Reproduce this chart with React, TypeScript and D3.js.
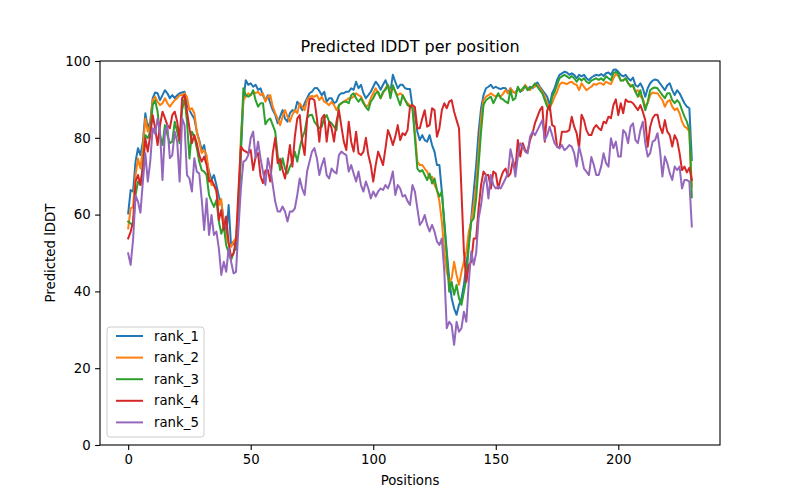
import { useEffect, useRef } from 'react'
import * as d3 from 'd3'

const SERIES_NAMES = ['rank_1', 'rank_2', 'rank_3', 'rank_4', 'rank_5']
const COLORS = ['#1f77b4', '#ff7f0e', '#2ca02c', '#d62728', '#9467bd']
const X_TICKS = [0, 50, 100, 150, 200]
const Y_TICKS = [0, 20, 40, 60, 80, 100]

const RANK_1 = [
  60.3, 66.4, 66, 73.8, 77.3, 75.5, 79, 86.4, 82.5, 84.2,
  90.3, 91.8, 91.6, 89.8, 91.1, 92.4, 91.6, 90.3, 91.1, 90.3,
  91.1, 91.6, 91.8, 92, 88.5, 87.2, 86, 85, 81.6, 79.4,
  76.8, 78.1, 74.2, 71.2, 69, 70.3, 67.7, 64.7, 63, 58.6,
  54.3, 62.5, 51.7, 53, 50.8, 59.5, 76, 89.8, 95, 93.8,
  94.2, 93.3, 93.8, 92.5, 92.9, 91, 89.8, 91.1, 89, 87.2,
  86, 83.8, 85.5, 87.2, 85, 84.2, 86.4, 87.2, 86.8, 89.4,
  88.5, 87.2, 89, 90.3, 91.6, 92, 92.9, 93, 92.2, 91.1,
  92, 89.4, 90.3, 90.3, 89, 89.4, 91.1, 91.6, 91.6, 92,
  92, 92.9, 92.5, 94.6, 92.9, 93.8, 91.6, 90.3, 91.1, 92,
  93.3, 94.6, 93.8, 92.5, 93.8, 95, 93.3, 92, 96.4, 94.6,
  92.9, 93.8, 93.8, 92.9, 92.7, 92.7, 88, 86, 81.6, 79.4,
  80.7, 79.4, 79, 80.7, 78.1, 76.4, 72.9, 72.9, 66, 58.2,
  50.4, 43.4, 38.2, 35.6, 33.9, 36.5, 38.2, 41.7, 46.9, 52.1,
  59, 66, 72.9, 81.6, 87.7, 91.1, 92.9, 93.3, 93.8, 92.9,
  93.3, 92.9, 92.7, 93, 92.9, 91.6, 92.9, 92, 91.6, 92.9,
  92, 92.4, 93.5, 92.6, 93.3, 92.9, 93.7, 94.4, 93.3, 92.4,
  91.6, 90.7, 88.5, 91.6, 92.9, 95, 96.4, 96.8, 97.2, 97,
  96.4, 96.8, 96.4, 95.5, 96.4, 96, 96.4, 95.5, 95, 95.7,
  96.1, 96.4, 96.2, 96.6, 96.1, 96.8, 97, 96.4, 97.7, 97.8,
  97.2, 96.4, 96, 96.4, 95.5, 94.9, 95.7, 93.7, 93.3, 94.2,
  92.9, 90.7, 92.9, 94.2, 94.9, 95.2, 95, 94.2, 93.3, 92.4,
  93.7, 94.2, 92.4, 91.1, 92.4, 91.6, 90.3, 89, 88.1, 87.7,
  74.2,
]

const RANK_2 = [
  56.4, 61.6, 62, 70.3, 74.6, 72, 77.3, 85, 81.6, 83.3,
  89.8, 90.7, 89.4, 88.5, 89, 90.3, 89, 88.1, 89, 89.8,
  90.3, 91.1, 91.1, 91.6, 90.7, 87.2, 87.7, 86.4, 81.6, 79,
  76, 76.8, 75.5, 70.3, 67.7, 67.7, 66, 62.5, 64, 57,
  54.3, 52.5, 51.7, 53, 54, 62.9, 80.3, 89.8, 90.7, 91.6,
  91.1, 92, 91.6, 92, 91.1, 91.6, 89.4, 90.7, 91.1, 88.1,
  86.4, 85, 83.3, 85.5, 87.2, 85.5, 84.2, 86, 87.2, 86.4,
  89, 88.1, 87.2, 89.8, 90.7, 90.9, 90.7, 91.1, 89.8, 90.7,
  89.4, 89, 88.5, 89.4, 88.5, 87.2, 88.5, 89, 89.4, 89.8,
  90.3, 90.3, 90.7, 91.6, 91.1, 90.7, 89.4, 88.1, 88.5, 90.3,
  91.6, 92.9, 91.6, 90.3, 91.6, 92.9, 93.8, 92, 93.3, 92,
  91.1, 91.6, 91.1, 89.8, 89, 88.5, 88.1, 81.6, 73.8, 72.9,
  72.9, 72, 71.2, 69.4, 69.9, 67.7, 66.4, 63.4, 58.2, 50.4,
  45.1, 42.5, 43.4, 47.7, 44.3, 41.7, 45.1, 47.7, 50.4, 55.6,
  58.2, 62.5, 67.7, 76.4, 85.1, 89.8, 90.7, 91.1, 91.6, 91.1,
  90.7, 91.1, 90.7, 91.5, 92.4, 91.6, 92.9, 92, 91.6, 92.9,
  92.4, 92.4, 93.8, 92.9, 92.4, 93.3, 93.3, 93.8, 92.9, 92,
  90.7, 89, 88.1, 89, 90.7, 92, 93.8, 94.4, 94.2, 94,
  94.4, 94.6, 94, 93.8, 92.4, 94.2, 93.3, 92.4, 92.9, 93.3,
  94, 93.8, 94.2, 94.2, 93.8, 94.6, 94.2, 94, 95.5, 96.6,
  96.1, 94.9, 95, 95.5, 94.2, 93.8, 93.3, 92, 92.4, 90.7,
  90.3, 88.1, 89, 91.1, 91.8, 91.6, 91.6, 90.7, 89.8, 88.1,
  89.4, 89.8, 88.1, 87.2, 87.7, 86.4, 84.2, 82.9, 82.5, 81.6,
  67.3,
]

const RANK_3 = [
  58.2, 57.7, 57, 65.1, 68.6, 67.7, 72.9, 80.7, 79.9, 81.6,
  88.5, 89.8, 86.8, 80.7, 78.1, 83.3, 80.7, 78.6, 79, 84.2,
  81.6, 78.6, 87.2, 90.3, 84.2, 74.6, 81.6, 80.3, 77.3, 73.8,
  71.6, 71.2, 70.3, 65.1, 63.4, 62, 63.8, 58.2, 55, 57,
  52, 50, 48.2, 50, 52, 60, 78, 92.9, 91.1, 90.7,
  91.1, 92.4, 89.8, 88.1, 89, 89, 83.5, 84.6, 85, 83.3,
  81.6, 75.5, 71.6, 74.7, 72, 70.7, 72.5, 73.8, 76.4, 73.8,
  77.3, 80, 81.6, 85.1, 85.9, 86, 84.2, 83.3, 82.5, 82.9,
  85.1, 85.9, 84.2, 83.8, 82.9, 82, 88.5, 89, 89.4, 89.4,
  89, 91.1, 91.6, 90.3, 89.4, 90.3, 89, 88, 87.2, 89.4,
  90.3, 91.6, 92, 90.3, 92, 92.5, 93.8, 90.3, 93.7, 92,
  90.3, 88.5, 91.1, 89.8, 88.5, 88.1, 87.7, 79.9, 72, 71.2,
  71.6, 70.3, 69, 70.7, 68.1, 69.4, 66.4, 64.7, 66, 57.3,
  49.5, 39.9, 42.5, 39.1, 41.7, 38.2, 36.5, 39.9, 43.4, 52.1,
  58.2, 59, 64.2, 72.9, 81.6, 88.5, 89.8, 90.3, 90.7, 89,
  90.3, 91.6, 90.3, 90, 89.4, 89, 92.4, 89.8, 90.3, 93.3,
  92, 92.9, 93.5, 92.4, 92.9, 93.3, 94.2, 93.3, 92.4, 91.6,
  89.8, 88.1, 87.2, 90.7, 92, 93.8, 95.5, 96, 96.4, 96,
  95.5, 96.1, 95.5, 94.6, 95.5, 94.9, 95.5, 94.6, 94.2, 94.9,
  95.2, 95.5, 95.1, 95.5, 94.9, 96, 95.5, 95, 96.8, 97.2,
  96.6, 94.9, 94.9, 95.5, 94.2, 93.3, 93.8, 92, 90.7, 92.4,
  89.8, 87.2, 89.4, 92.4, 92.9, 93.1, 92.9, 92, 91.1, 90.3,
  91.6, 91.6, 89.8, 89, 89.8, 89, 87.2, 85.5, 84.2, 82,
  64.5,
]

const RANK_4 = [
  53.8, 55.5, 58.2, 68.6, 70.3, 67.7, 72, 79.9, 76.4, 80.7,
  85.9, 82.5, 78.1, 83.3, 86.8, 85.1, 83.3, 82.5, 85.9, 86.8,
  84.2, 79.4, 90.3, 91.1, 86.8, 82.5, 78.6, 80.7, 78.6, 75.5,
  73.8, 75.1, 72.9, 68.6, 69, 67.7, 66.4, 58.6, 61.2, 56,
  59.5, 52.5, 49, 49.9, 53.4, 66.4, 77.7, 76.8, 76.4, 76,
  76.8, 71.6, 75.1, 76, 70, 68.2, 71.5, 71.6, 68.6, 76,
  80, 73.4, 74.5, 71.6, 69.4, 73.4, 78.1, 72.5, 80.3, 85,
  85.9, 79, 75.5, 85, 90, 90.3, 89.8, 85.1, 79, 85.1,
  86, 79, 84.2, 82.5, 79, 84.2, 87.2, 83, 79, 76.8,
  84.2, 79, 76.4, 81.6, 76, 75.5, 76.4, 80, 75.5, 72.9,
  68.6, 72.9, 76.4, 74.7, 72.9, 77.3, 82, 80.3, 78.1, 80.3,
  83.3, 79.4, 81.2, 80.7, 82, 88.1, 88.5, 88, 82.5, 82.5,
  85, 87.2, 82.9, 83.3, 87.7, 87.2, 80.3, 82.5, 87.2, 89,
  87.7, 89.4, 89.8, 86.8, 84.6, 82.5, 66, 50.4, 42.5, 46.9,
  47.7, 53.8, 53.8, 61.6, 67.7, 71.2, 70.3, 70.3, 66.8, 71.2,
  70.7, 66.8, 69.4, 71.2, 72, 69.9, 70.7, 74.2, 71.6, 79.4,
  75.1, 78.6, 76.8, 76.4, 79.4, 81.2, 83.8, 85.5, 87.2, 88.1,
  79, 87.2, 88.5, 83.3, 82.9, 77.7, 77.3, 81.6, 81.6, 81.6,
  82, 85.5, 82.9, 81.2, 77.3, 86, 84.6, 82, 80.7, 80.7,
  82.5, 83.3, 82.5, 82, 84.2, 83.8, 85.5, 85.1, 88.5, 90,
  85.9, 89, 86.4, 90, 89.4, 89.4, 89, 88.1, 87.2, 88.5,
  86.8, 84.6, 77.7, 82.9, 85.1, 86, 86, 82.9, 81.2, 84.6,
  81.6, 80.7, 77.7, 80.7, 79.4, 76, 71.6, 72.5, 71, 72.2,
  69,
]

const RANK_5 = [
  49.9, 46.9, 53.5, 65, 63.4, 60.5, 68.6, 76, 68.6, 73.8,
  82.5, 81, 85, 81.6, 69, 81.6, 83.3, 74.7, 75.5, 81.6,
  79, 68.6, 85.1, 83.3, 70.3, 69.4, 66, 74.7, 71.2, 70.7,
  64, 56, 64.2, 54.7, 59.9, 54.7, 55.6, 51.2, 44.3, 47.7,
  45.1, 51.2, 47.7, 44.7, 45.1, 56.4, 66.8, 73.8, 74.2, 75.5,
  79.9, 81.6, 74.7, 79, 74.7, 71.2, 67.7, 74.7, 72, 67.7,
  63.4, 60.8, 60.8, 62.1, 60.8, 58.2, 60.8, 60.8, 61.6, 65.1,
  69.4, 66.8, 65.1, 71.2, 73.8, 76.4, 77.3, 74.7, 70.3, 72.9,
  74.7, 70.3, 69.4, 72, 71.2, 70.7, 75.5, 76.4, 75.9, 75.5,
  71.2, 72.9, 70.7, 68.6, 71.2, 67.7, 66, 68.6, 66.8, 64.2,
  66, 64.7, 66, 66.8, 66.4, 67.7, 66.8, 68.6, 71.2, 65.1,
  67.7, 66.8, 64.7, 65.1, 63.5, 62.5, 67.7, 66, 61.6, 57.3,
  58.2, 59.9, 57.3, 55.6, 57.3, 55.6, 53, 52.1, 53.8, 45.1,
  30.4, 32.1, 31.2, 26.1, 32.1, 29.5, 30.4, 34.7, 32.1, 42.5,
  50.4, 46.9, 50, 59, 62.5, 67.7, 70.3, 64.2, 70.3, 67.7,
  66.8, 67.3, 66.8, 68.1, 69.4, 70.8, 77, 74.2, 69.9, 75.1,
  78.6, 77.7, 76.4, 76, 80.3, 81.6, 80.7, 82, 83.3, 84.6,
  79.4, 80.7, 82.9, 80.7, 78.6, 77.7, 77.3, 78.1, 76.8, 77.3,
  78.1, 77.7, 76, 72.5, 77.7, 75.1, 72, 71.2, 70.3, 75,
  73, 70.3, 70.3, 72.5, 76, 73.4, 72.5, 79.9, 77.3, 79,
  75.1, 75.1, 82, 81.2, 78.6, 82.9, 83.8, 79.4, 78.6, 82,
  84.2, 78.6, 75.1, 76, 79, 79.4, 81.2, 76.8, 69.9, 75.1,
  73.4, 70.8, 69, 72.5, 71.6, 72.5, 66.8, 69, 69, 68.6,
  56.9,
]

const SERIES = [RANK_1, RANK_2, RANK_3, RANK_4, RANK_5]

const FONT = '"DejaVu Sans", sans-serif'

export default function App(): JSX.Element {
  const ref = useRef<SVGSVGElement>(null)

  useEffect(() => {
    const node = ref.current
    if (!node) return
    const width = 800, height = 500
    const left = 100, right = 720, top = 61, bottom = 445

    const svg = d3.select(node)
    svg.selectAll('*').remove()

    const maxX = RANK_1.length - 1
    const pad = maxX * 0.05
    const x = d3.scaleLinear().domain([-pad, maxX + pad]).range([left, right])
    const y = d3.scaleLinear().domain([0, 100]).range([bottom, top])

    svg.append('rect').attr('width', width).attr('height', height).attr('fill', '#fff')

    const line = d3.line<number>()
      .x((_, i) => x(i))
      .y(d => y(d))

    const plot = svg.append('g')
    SERIES.forEach((s, k) => {
      plot.append('path')
        .datum(s)
        .attr('d', line)
        .attr('fill', 'none')
        .attr('stroke', COLORS[k])
        .attr('stroke-width', 2)
        .attr('stroke-linejoin', 'round')
        .attr('stroke-linecap', 'square')
    })

    // axes
    const xAxis = svg.append('g')
      .attr('transform', `translate(0,${bottom})`)
      .call(d3.axisBottom(x).tickValues(X_TICKS).tickSize(4.9).tickPadding(4.5).tickFormat(d3.format('d')))
    const yAxis = svg.append('g')
      .attr('transform', `translate(${left},0)`)
      .call(d3.axisLeft(y).tickValues(Y_TICKS).tickSize(4.9).tickPadding(4.5).tickFormat(d3.format('d')))
    for (const a of [xAxis, yAxis]) {
      a.select('.domain').remove()
      a.selectAll('line').attr('stroke', '#000').attr('stroke-width', 1.1)
      a.selectAll('text').attr('font-family', FONT).attr('font-size', '13.3px').attr('fill', '#000')
    }

    svg.append('rect')
      .attr('x', left).attr('y', top)
      .attr('width', right - left).attr('height', bottom - top)
      .attr('fill', 'none').attr('stroke', '#000').attr('stroke-width', 1.1)

    svg.append('text')
      .attr('x', (left + right) / 2).attr('y', 52)
      .attr('text-anchor', 'middle')
      .attr('font-family', FONT).attr('font-size', '16px')
      .text('Predicted lDDT per position')

    svg.append('text')
      .attr('x', (left + right) / 2).attr('y', 485)
      .attr('text-anchor', 'middle')
      .attr('font-family', FONT).attr('font-size', '13.3px')
      .text('Positions')

    svg.append('text')
      .attr('transform', `translate(55,${(top + bottom) / 2}) rotate(-90)`)
      .attr('text-anchor', 'middle')
      .attr('font-family', FONT).attr('font-size', '13.3px')
      .text('Predicted lDDT')

    // legend
    const lg = svg.append('g')
    lg.append('rect')
      .attr('x', 107).attr('y', 327).attr('width', 97).attr('height', 110)
      .attr('rx', 3).attr('fill', '#fff').attr('fill-opacity', 0.8)
      .attr('stroke', '#ccc').attr('stroke-width', 1)
    SERIES_NAMES.forEach((name, k) => {
      const cy = 336 + k * 21.6
      lg.append('line')
        .attr('x1', 116).attr('x2', 143).attr('y1', cy).attr('y2', cy)
        .attr('stroke', COLORS[k]).attr('stroke-width', 2)
      lg.append('text')
        .attr('x', 154).attr('y', cy).attr('dy', '0.35em')
        .attr('font-family', FONT).attr('font-size', '13.3px')
        .text(name)
    })
  }, [])

  return (
    <svg
      ref={ref}
      width={800}
      height={500}
      viewBox="0 0 800 500"
      style={{ position: 'absolute', left: 0, top: 0, display: 'block' }}
    />
  )
}
